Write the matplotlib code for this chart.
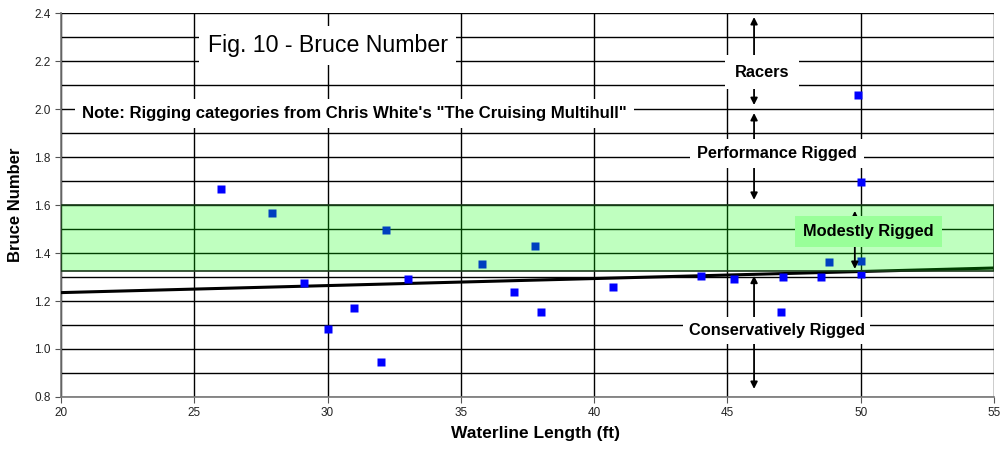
import matplotlib.pyplot as plt
from matplotlib.patches import Rectangle
from matplotlib.ticker import MultipleLocator

plt.rcParams['font.family'] = ['Liberation Sans', 'DejaVu Sans']

# data
waterline_ft = [26.0, 27.9, 29.1, 30.0, 31.0, 32.0, 32.2, 33.0, 35.8, 37.0, 37.8, 38.0,
                40.7, 44.0, 45.25, 47.0, 47.1, 48.5, 48.8, 49.9, 50.0, 50.0, 50.0]
bruce_number = [1.667, 1.567, 1.276, 1.082, 1.170, 0.945, 1.495, 1.292, 1.353, 1.237, 1.428, 1.154,
                1.257, 1.304, 1.290, 1.155, 1.299, 1.300, 1.362, 2.058, 1.697, 1.368, 1.311]

trend_x = [20, 55]
trend_y = [1.235, 1.3375]

band_low, band_high = 1.325, 1.6

fig = plt.figure(figsize=(10.03, 4.5), dpi=100)
ax = fig.add_axes([0.0608, 0.1178, 0.9302, 0.8532])

ax.set_xlim(20, 55)
ax.set_ylim(0.8, 2.4)
ax.xaxis.set_major_locator(MultipleLocator(5))
ax.yaxis.set_major_locator(MultipleLocator(0.2))
ax.yaxis.set_minor_locator(MultipleLocator(0.1))
ax.yaxis.set_major_formatter(plt.FuncFormatter(lambda v, p: f"{v:.1f}"))
ax.grid(True, which='both', axis='y', color='black', lw=1.0)
ax.grid(True, which='major', axis='x', color='black', lw=1.0)
ax.set_axisbelow(True)
ax.tick_params(which='minor', length=0)
ax.tick_params(which='major', length=4, color='#555555', labelsize=8.5, labelcolor='#222222')
for s in ['left', 'bottom']:
    ax.spines[s].set_color('#777777')
    ax.spines[s].set_linewidth(1.2)
for s in ['top', 'right']:
    ax.spines[s].set_visible(False)

ax.plot(trend_x, trend_y, color='black', lw=2.2, zorder=3)
ax.plot(waterline_ft, bruce_number, 's', color='#0000ff', ms=6, mec='none', zorder=4)

# translucent "modestly rigged" band
ax.add_patch(Rectangle((20, band_low), 35, band_high - band_low, facecolor='#00ff00',
                       alpha=0.25, edgecolor='none', zorder=5))
ax.add_patch(Rectangle((20, band_low), 35, band_high - band_low, facecolor='none',
                       edgecolor='#1a3a1a', lw=1.2, zorder=5))

arrow = dict(arrowstyle='-|>', color='black', lw=1.3, mutation_scale=10)
def double_arrow(x, y0, y1):
    ax.annotate('', xy=(x, y1), xytext=(x, (y0 + y1) / 2), arrowprops=arrow, zorder=6)
    ax.annotate('', xy=(x, y0), xytext=(x, (y0 + y1) / 2), arrowprops=arrow, zorder=6)

double_arrow(46, 2.005, 2.395)
double_arrow(46, 1.61, 1.995)
double_arrow(46, 0.822, 1.317)
double_arrow(49.78, 1.322, 1.587)

def box(color='white', pad=4):
    return dict(facecolor=color, edgecolor='none', pad=pad)

ax.text(30.0, 2.265, 'Fig. 10 - Bruce Number', fontsize=16.7, ha='center', va='center',
        bbox=box(pad=6), zorder=7)
ax.text(20.8, 1.981, 'Note: Rigging categories from Chris White\'s "The Cruising Multihull"',
        fontsize=12.1, fontweight='bold', ha='left', va='center', bbox=box(pad=5), zorder=7)
ax.text(46.3, 2.154, 'Racers', fontsize=11.8, fontweight='bold', ha='center', va='center',
        bbox=box(pad=7), zorder=7)
ax.text(46.85, 1.815, 'Performance Rigged', fontsize=11.8, fontweight='bold', ha='center',
        va='center', bbox=box(pad=5), zorder=7)
ax.text(46.85, 1.077, 'Conservatively Rigged', fontsize=11.8, fontweight='bold', ha='center',
        va='center', bbox=box(pad=4), zorder=7)
ax.text(50.3, 1.49, 'Modestly Rigged', fontsize=11.8, fontweight='bold', ha='center',
        va='center', bbox=box('#99ff99', pad=6), zorder=7)

ax.set_xlabel('Waterline Length (ft)', fontsize=12.5, fontweight='bold')
ax.xaxis.set_label_coords(0.509, -0.075)
ax.set_ylabel('Bruce Number', fontsize=12, fontweight='bold', labelpad=8)

fig.savefig('out.png', dpi=100)
